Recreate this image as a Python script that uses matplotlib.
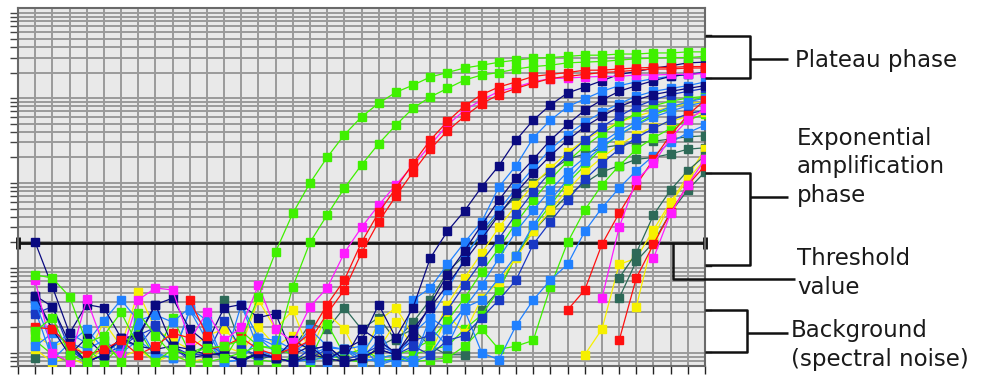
import numpy as np
import matplotlib.pyplot as plt
from matplotlib.ticker import LogLocator, NullFormatter

nan = np.nan

# amplification plot, delta Rn per cycle (log scale)
cycles = np.arange(1, 41)
threshold = 0.0197

g1 = [8.3e-3, 7.6e-3, 4.6e-3, 1.3e-3, 1.6e-3, 3.0e-3, 1.2e-3, 7.8e-4, 1.1e-3, 9.5e-4,
      1.15e-3, 1.2e-3, 1.4e-3, 4.6e-3, 0.0155, 0.044, 0.10, 0.20, 0.37, 0.60,
      0.87, 1.17, 1.42, 1.77, 2.0, 2.26, 2.44, 2.64, 2.8, 2.95,
      3.0, 3.1, 3.2, 3.2, 3.3, 3.3, 3.4, 3.4, 3.5, 3.5]
g2 = [1.8e-3, 2.6e-3, 9.5e-4, 7.8e-4, 1.4e-3, 7.8e-4, 2.95e-3, 1.6e-3, 9.5e-4, 7.8e-4,
      7.8e-4, 8.7e-4, 1.0e-3, 1.2e-3, 1.1e-3, 6.0e-3, 0.020, 0.042, 0.087, 0.163,
      0.29, 0.48, 0.76, 1.03, 1.3, 1.63, 1.87, 2.0, 2.2, 2.35,
      2.44, 2.6, 2.65, 2.7, 2.8, 2.9, 2.95, 3.0, 3.0, 3.1]
m1 = [7.2e-3, 1.0e-3, 7.8e-4, 4.3e-3, 1.2e-3, 9.5e-4, 4.2e-3, 5.8e-3, 5.5e-3, 1.4e-3,
      3.0e-3, 1.4e-3, 2.0e-3, 6.3e-3, 1.9e-3, 1.35e-3, 3.5e-3, 5.8e-3, 0.015, 0.030,
      0.055, 0.095, 0.16, 0.28, 0.48, 0.72, 0.95, 1.2, 1.35, 1.55,
      1.7, 1.72, 1.77, 1.8, 1.8, 1.87, 1.87, 1.9, 1.9, 1.95]
r1 = [2.0e-3, 1.9e-3, 1.2e-3, 9.5e-4, 1.1e-3, 1.4e-3, 9.5e-4, 1.2e-3, 1.7e-3, 1.5e-3,
      1.1e-3, 1.2e-3, 1.5e-3, 1.1e-3, 9.5e-4, 1.15e-3, 1.7e-3, 3.7e-3, 7.2e-3, 0.020,
      0.045, 0.087, 0.17, 0.32, 0.53, 0.81, 1.1, 1.35, 1.55, 1.8,
      1.9, 2.0, 2.13, 2.13, 2.2, 2.26, 2.3, 2.3, 2.35, 2.35]
r2 = [nan, nan, nan, nan, nan, nan, nan, nan, nan, 4.2e-3,
      1.6e-3, nan, nan, nan, nan, 1.1e-3, 1.4e-3, 2.9e-3, 5.5e-3, 0.015,
      0.035, 0.07, 0.135, 0.25, 0.41, 0.61, 0.86, 1.1, 1.3, 1.5,
      1.7, 1.8, 1.9, 2.0, 2.05, 2.13, 2.2, 2.2, 2.26, 2.26]
n1 = [0.020, 6.0e-3, 1.7e-3, 3.7e-3, 3.4e-3, 1.5e-3, 1.5e-3, 3.7e-3, 4.4e-3, 1.9e-3,
      1.3e-3, 3.4e-3, 3.7e-3, 2.6e-3, 2.9e-3, 9.5e-4, 1.2e-3, 8.3e-4, 1.1e-3, 1.4e-3,
      3.7e-3, 1.5e-3, 3.4e-3, 0.013, 0.027, 0.047, 0.09, 0.16, 0.32, 0.55,
      0.83, 1.15, 1.35, 1.6, 1.9, 2.05, 2.25, 2.4, 2.6, 2.65]
b1 = [3.9e-3, 1.2e-3, 1.7e-3, 1.3e-3, 2.4e-3, 4.2e-3, 2.4e-3, 2.8e-3, 2.3e-3, 3.4e-3,
      2.4e-3, 7.8e-4, 3.7e-3, 1.5e-3, 1.4e-3, 1.1e-3, 1.9e-3, 1.2e-3, 1.1e-3, 9.5e-4,
      1.9e-3, 7.8e-4, 4.2e-3, 5.8e-3, 0.011, 0.020, 0.035, 0.09, 0.16, 0.34,
      0.55, 0.79, 0.98, 1.2, 1.4, 1.55, 1.7, 1.8, 1.9, 2.0]
n2 = [4.7e-3, 3.5e-3, 1.3e-3, 7.8e-4, 9.5e-4, 1.5e-3, 1.6e-3, 3.7e-3, 1.2e-3, 1.1e-3,
      9.5e-4, 9.5e-4, 8.3e-4, 1.0e-3, 8.7e-4, 1.4e-3, 1.1e-3, 1.2e-3, 8.3e-4, 1.9e-3,
      1.4e-3, 1.0e-3, 1.6e-3, 3.7e-3, 8.3e-3, 0.016, 0.032, 0.063, 0.115, 0.19,
      0.32, 0.49, 0.72, 0.95, 1.2, 1.4, 1.6, 1.8, 1.9, 2.0]
b2 = [1.2e-3, 1.7e-3, 1.3e-3, 1.1e-3, 1.4e-3, 1.0e-3, 2.1e-3, 9.5e-4, 8.7e-4, 3.2e-3,
      1.9e-3, 7.8e-4, 8.3e-4, 1.5e-3, 1.2e-3, 1.0e-3, 1.4e-3, 7.8e-4, 1.1e-3, 1.2e-3,
      7.2e-4, 8.3e-4, 1.7e-3, 2.6e-3, 5.5e-3, 0.013, 0.027, 0.048, 0.087, 0.15,
      0.25, 0.37, 0.52, 0.68, 0.86, 1.05, 1.2, 1.3, 1.4, 1.55]
t1 = [8.7e-4, nan, nan, nan, nan, nan, nan, nan, nan, nan,
      nan, 4.2e-3, 1.2e-3, 8.3e-4, 9.5e-4, 1.1e-3, 2.2e-3, 1.9e-3, 3.4e-3, 1.9e-3,
      2.6e-3, 1.4e-3, 2.3e-3, 4.2e-3, 9.0e-3, 0.014, 0.025, 0.044, 0.07, 0.10,
      0.14, 0.19, 0.22, 0.26, 0.28, 0.30, 0.31, 0.33, 0.35, 0.36]
y1 = [1.6e-3, 1.2e-3, 1.4e-3, 9.0e-4, 2.3e-3, 1.2e-3, 5.2e-3, 1.9e-3, 1.4e-3, 1.1e-3,
      1.6e-3, 1.9e-3, 1.2e-3, 4.2e-3, 1.9e-3, 3.2e-3, 1.0e-3, 2.9e-3, 1.9e-3, 7.8e-4,
      2.4e-3, 3.4e-3, 1.6e-3, 1.4e-3, 3.7e-3, 7.6e-3, 0.015, 0.030, 0.055, 0.095,
      0.15, 0.23, 0.32, 0.42, 0.52, 0.61, 0.70, 0.79, 0.86, 0.90]
n3 = [2.9e-3, 3.5e-3, 1.1e-3, 7.8e-4, 9.5e-4, 1.2e-3, 1.6e-3, 2.0e-3, 1.2e-3, 9.5e-4,
      9.5e-4, 2.4e-3, 1.1e-3, 9.5e-4, 8.7e-4, 7.8e-4, 1.1e-3, 1.2e-3, 8.3e-4, 9.5e-4,
      1.2e-3, 1.0e-3, 1.4e-3, 1.6e-3, 3.2e-3, 6.3e-3, 0.012, 0.022, 0.043, 0.079,
      0.135, 0.21, 0.32, 0.46, 0.61, 0.79, 0.95, 1.1, 1.2, 1.3]
n4 = [4.7e-3, 1.9e-3, 9.5e-4, 1.5e-3, 9.5e-4, 1.5e-3, 1.2e-3, 1.1e-3, 1.2e-3, 8.7e-4,
      9.5e-4, 1.0e-3, 7.8e-4, 1.0e-3, 8.7e-4, 7.8e-4, 9.5e-4, 8.7e-4, 7.8e-4, 8.7e-4,
      1.1e-3, 9.5e-4, 1.9e-3, 3.4e-3, 6.3e-3, 0.012, 0.022, 0.042, 0.077, 0.13,
      0.21, 0.32, 0.46, 0.61, 0.79, 0.95, 1.1, 1.2, 1.3, 1.4]
g3 = [1.4e-3, 9.5e-4, 7.8e-4, 1.1e-3, 7.8e-4, 1.2e-3, 1.9e-3, 8.7e-4, 2.6e-3, 1.0e-3,
      1.2e-3, 8.3e-4, 1.8e-3, 1.2e-3, 1.15e-3, 9.5e-4, 8.3e-4, 2.2e-3, 9.5e-4, 1.1e-3,
      8.7e-4, 9.5e-4, 1.1e-3, 1.4e-3, 2.4e-3, 4.4e-3, 9.0e-3, 0.017, 0.034, 0.063,
      0.11, 0.18, 0.27, 0.38, 0.52, 0.66, 0.81, 0.92, 1.0, 1.05]
b3 = [3.2e-3, 8.3e-4, 1.3e-3, 1.9e-3, 1.1e-3, 1.0e-3, 1.4e-3, 1.0e-3, 8.7e-4, 3.2e-3,
      1.4e-3, 7.8e-4, 8.3e-4, 1.5e-3, 1.0e-3, 1.2e-3, 9.5e-4, 1.15e-3, 1.1e-3, 8.7e-4,
      1.4e-3, 9.5e-4, 7.8e-4, 2.6e-3, 1.9e-3, 3.4e-3, 6.3e-3, 0.013, 0.027, 0.048,
      0.083, 0.135, 0.20, 0.30, 0.41, 0.53, 0.66, 0.79, 0.90, 1.0]
t2 = [nan, nan, nan, nan, nan, nan, nan, nan, nan, nan,
      nan, nan, nan, nan, nan, nan, 1.1e-3, 7.8e-4, 8.7e-4, 7.8e-4,
      1.2e-3, 1.5e-3, 1.9e-3, 1.2e-3, 9.5e-4, 9.5e-4, 3.2e-3, 5.5e-3, 0.014, 0.027,
      0.045, 0.072, 0.10, 0.135, 0.16, 0.19, 0.20, 0.22, 0.25, 0.26]
y2 = [1.1e-3, 7.8e-4, 8.7e-4, 7.2e-4, 1.2e-3, 8.7e-4, 1.1e-3, 7.8e-4, 9.5e-4, 7.8e-4,
      8.7e-4, 1.2e-3, 1.0e-3, 2.0e-3, 1.2e-3, 1.6e-3, 1.0e-3, 9.0e-4, 1.1e-3, 7.8e-4,
      1.1e-3, 2.3e-3, 1.2e-3, 9.5e-4, 2.8e-3, 1.7e-3, 4.4e-3, 6.9e-3, 0.013, 0.027,
      0.048, 0.083, 0.135, 0.20, 0.28, 0.37, 0.46, 0.53, 0.61, 0.68]
g4 = [nan, nan, nan, nan, nan, nan, nan, nan, nan, nan,
      nan, nan, 9.5e-4, 8.3e-4, 7.8e-4, 8.7e-4, 7.8e-4, 9.5e-4, 8.3e-4, 7.8e-4,
      8.7e-4, 7.8e-4, 9.5e-4, 1.1e-3, 1.2e-3, 1.9e-3, 2.8e-3, 5.5e-3, 0.014, 0.030,
      0.055, 0.10, 0.16, 0.26, 0.37, 0.49, 0.63, 0.76, 0.90, 1.05]
bm = [4.2e-3, 1.9e-3, 1.2e-3, 7.8e-4, 9.5e-4, 1.4e-3, 1.2e-3, 2.1e-3, 1.15e-3, 8.3e-4,
      1.3e-3, 9.5e-4, 8.3e-4, 9.5e-4, 8.7e-4, 7.8e-4, 8.7e-4, 1.1e-3, 7.8e-4, 8.7e-4,
      1.1e-3, 9.5e-4, 1.2e-3, 9.5e-4, 1.4e-3, 1.6e-3, 2.6e-3, 4.2e-3, 7.2e-3, 0.019,
      0.035, 0.063, 0.11, 0.17, 0.25, 0.34, 0.44, 0.55, 0.65, 0.72]
g5 = [1.9e-3, nan, nan, nan, nan, nan, nan, nan, nan, nan,
      nan, nan, nan, nan, nan, nan, nan, nan, nan, nan,
      7.8e-4, 8.7e-4, 7.8e-4, 8.3e-4, 8.7e-4, 1.2e-3, 1.9e-3, 1.1e-3, 1.2e-3, 1.4e-3,
      6.0e-3, 0.020, 0.048, 0.095, 0.16, 0.25, 0.34, 0.44, 0.55, 0.65]
b4 = [nan, nan, nan, nan, nan, nan, nan, nan, nan, nan,
      nan, nan, 3.7e-3, 1.1e-3, 8.7e-4, 7.8e-4, 8.3e-4, 8.7e-4, 1.1e-3, 7.8e-4,
      8.7e-4, 9.5e-4, 8.3e-4, 2.0e-3, 1.2e-3, 3.2e-3, 1.0e-3, 8.3e-4, 2.1e-3, 4.2e-3,
      7.2e-3, 0.011, 0.027, 0.051, 0.087, 0.14, 0.21, 0.30, 0.39, 0.48]
b5 = [nan, nan, nan, nan, nan, nan, nan, nan, nan, nan,
      nan, nan, nan, nan, nan, nan, nan, nan, 1.1e-3, 8.7e-4,
      7.8e-4, 8.3e-4, 7.8e-4, 9.5e-4, 1.9e-3, 3.4e-3, 4.2e-3, 7.6e-3, 0.014, 0.032,
      0.063, 0.11, 0.18, 0.27, 0.37, 0.48, 0.60, 0.70, 0.81, 0.90]
# late risers (nothing visible before the listed cycles)
r3 = [nan] * 31 + [3.2e-3, 5.5e-3, 0.019, 0.044, 0.095, 0.19, 0.37, 0.63, 0.95]
m2 = [nan] * 33 + [4.4e-3, 0.030, 0.108, 0.17, 0.34, 0.55, 0.76]
y3 = [nan] * 32 + [9.5e-4, 1.9e-3, 0.011, 0.013, 0.028, 0.060, 0.12, 0.25]
t3 = [nan] * 34 + [7.6e-3, 0.015, 0.042, 0.083, 0.14, 0.21]
t4 = [nan] * 34 + [4.4e-3, 0.012, 0.020, 0.045, 0.083, 0.135]
r4 = [nan] * 34 + [1.4e-3, 7.6e-3, 0.019, 0.045, 0.095, 0.16]
m3 = [nan] * 36 + [0.013, 0.044, 0.095, 0.19]
y4 = [nan] * 35 + [3.5e-3, 0.023, 0.058, 0.11, 0.19]

lime, red, mag = "#3ff000", "#ff1010", "#ff1aff"
navy, blue, sky = "#0a0a80", "#1838c4", "#2080ff"
yel, teal = "#f6f000", "#2d6a58"

curves = [(t2, teal), (t1, teal), (g4, lime), (g5, lime), (y2, yel), (y1, yel),
          (g3, lime), (b5, sky), (b4, sky), (b3, sky), (bm, blue), (n3, blue),
          (b2, sky), (b1, sky), (n4, navy), (n2, navy), (n1, navy),
          (y3, yel), (t3, teal), (t4, teal), (y4, yel), (r4, red), (m3, mag),
          (r3, red), (m2, mag), (m1, mag), (r2, red), (r1, red), (g2, lime), (g1, lime)]

W, H = 988, 378
fig = plt.figure(figsize=(W / 100, H / 100), dpi=100)
ax = fig.add_axes([18 / W, 1 - 366 / H, (705 - 18) / W, (366 - 8) / H])
ax.set_facecolor("#e9e9e9")

for vals, col in curves:
  ax.plot(cycles, vals, "-s", color=col, lw=0.9, ms=6.2, mec=col, zorder=3)

ax.plot([0, 40], [threshold, threshold], color="#151515", lw=2, marker="|",
        ms=9, mew=3.5, clip_on=False, zorder=2)

ax.set_yscale("log")
ax.set_xlim(0, 40)
ax.set_ylim(7.0e-4, 11.5)
ax.set_xticks(np.arange(0, 41))
ax.yaxis.set_major_locator(LogLocator(base=10))
ax.yaxis.set_minor_locator(LogLocator(base=10, subs=np.arange(2, 10)))
ax.yaxis.set_major_formatter(NullFormatter())
ax.yaxis.set_minor_formatter(NullFormatter())
ax.set_xticklabels([])
ax.grid(True, which="both", color="#9a9a9a", lw=1.4)
ax.set_axisbelow(True)
ax.tick_params(axis="x", direction="out", length=6, width=1, color="#222")
ax.tick_params(axis="y", which="both", direction="out", length=6, width=1, color="#444")
for sp in ax.spines.values():
  sp.set_color("#6a6a6a")
  sp.set_linewidth(1.5)

# small ticks on the right edge
for v in [5.5, 1.72, 0.131, 0.0106, 0.0032, 0.00103]:
  ax.plot([1.0, 1.009], [v, v], color="#222", lw=1,
          transform=ax.get_yaxis_transform(), clip_on=False)

# annotation layer in pixel units
ov = fig.add_axes([0, 0, 1, 1], facecolor="none")
ov.set_xlim(0, W)
ov.set_ylim(H, 0)
ov.axis("off")
k = dict(color="#111", lw=1.8, solid_capstyle="butt")
# plateau
ov.plot([705, 750, 750, 705], [36, 36, 78, 78], **k)
ov.plot([750, 788], [59, 59], **k)
# exponential
ov.plot([705, 750, 750, 705], [173, 173, 265, 265], **k)
ov.plot([750, 788], [197, 197], **k)
# threshold
ov.plot([673, 673, 795], [243, 279, 279], **k)
# background
ov.plot([705, 747, 747, 705], [310, 310, 352, 352], **k)
ov.plot([747, 788], [333, 333], **k)

tk = dict(fontsize=16.5, color="#1a1a1a", ha="left", va="center", linespacing=1.3)
ov.text(795, 61, "Plateau phase", **tk)
ov.text(797, 167, "Exponential\namplification\nphase", **tk)
ov.text(797, 273, "Threshold\nvalue", **tk)
ov.text(791, 345, "Background\n(spectral noise)", **tk)

fig.savefig("out.png", dpi=100)
